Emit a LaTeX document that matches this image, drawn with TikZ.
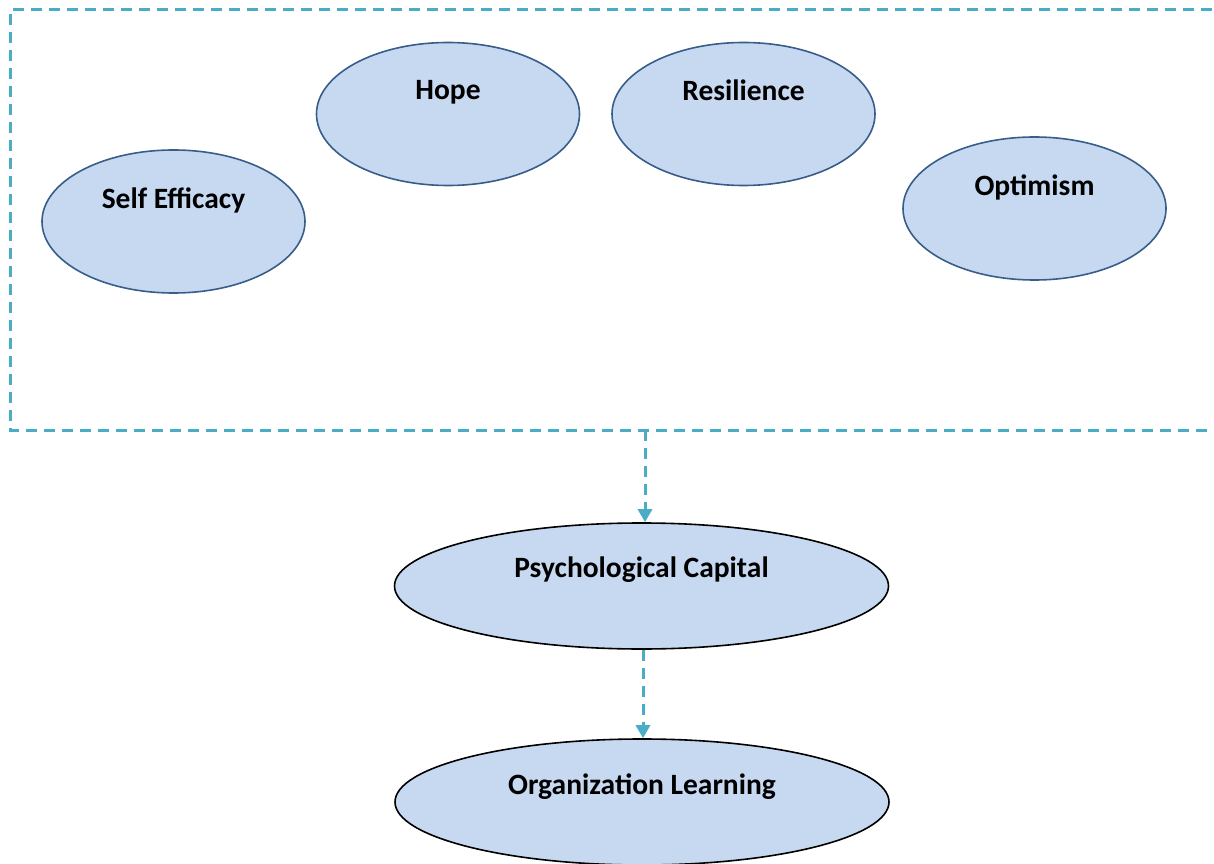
\documentclass[tikz,border=0pt]{standalone}
\usepackage{fontspec}
\setmainfont{Carlito}
\usepackage{xcolor}
\usetikzlibrary{arrows.meta,shapes.geometric,calc}
\definecolor{boxline}{HTML}{4BACC6}
\definecolor{capfill}{HTML}{C6D9F1}
\definecolor{capline}{HTML}{385D8A}

\begin{document}
\begin{tikzpicture}[x=1pt, y=1pt, >={Triangle[width=14pt,length=13pt]},
  factor/.style={ellipse,draw=capline,line width=1.6pt,fill=capfill,inner sep=0pt,
    minimum width=263pt,minimum height=143pt},
  outcome/.style={ellipse,draw=black,line width=1.6pt,fill=capfill,inner sep=0pt,
    minimum width=494pt,minimum height=126pt},
  lbl/.style={font=\fontsize{29.5}{34}\selectfont\bfseries,inner sep=0pt},
  link/.style={->,boxline,line width=3pt,dash pattern=on 11pt off 7pt}]
  \useasboundingbox (0,0) rectangle (1214,863);
  % Components of PsyCap (top layer)
  \node[factor] (se) at (173.5,641.5) {};
  \node[factor] (hp) at (448,749) {};
  \node[factor] (rs) at (743.5,749) {};
  \node[factor] (op) at (1034.5,654.5) {};
  \node[lbl] at ($(se.center)+(0,21.5)$) {Self Efficacy};
  \node[lbl] at ($(hp.center)+(0,22)$) {Hope};
  \node[lbl] at ($(rs.center)+(0,24)$) {Resilience};
  \node[lbl] at ($(op.center)+(0,21.5)$) {Optimism};
  % Dashed group frame (open to the right)
  \draw[boxline,line width=3pt,dash pattern=on 11pt off 7pt]
    (1230,853) -- (10,853) -- (10,433) -- (1230,433);
  \coordinate (grp) at (645,433);
  % Outcomes
  \node[outcome] (pc) at (641.5,277) {};
  \node[outcome] (ol) at (642,61) {};
  \node[lbl] at ($(pc.center)+(0,16)$) {Psychological Capital};
  \node[lbl] at ($(ol.center)+(0,15)$) {Organization Learning};
  % Links
  \draw[link] (grp) -- (grp |- pc.north);
  \draw[link] ([xshift=1.5pt]pc.south) -- ([xshift=1pt]ol.north);
\end{tikzpicture}
\end{document}
